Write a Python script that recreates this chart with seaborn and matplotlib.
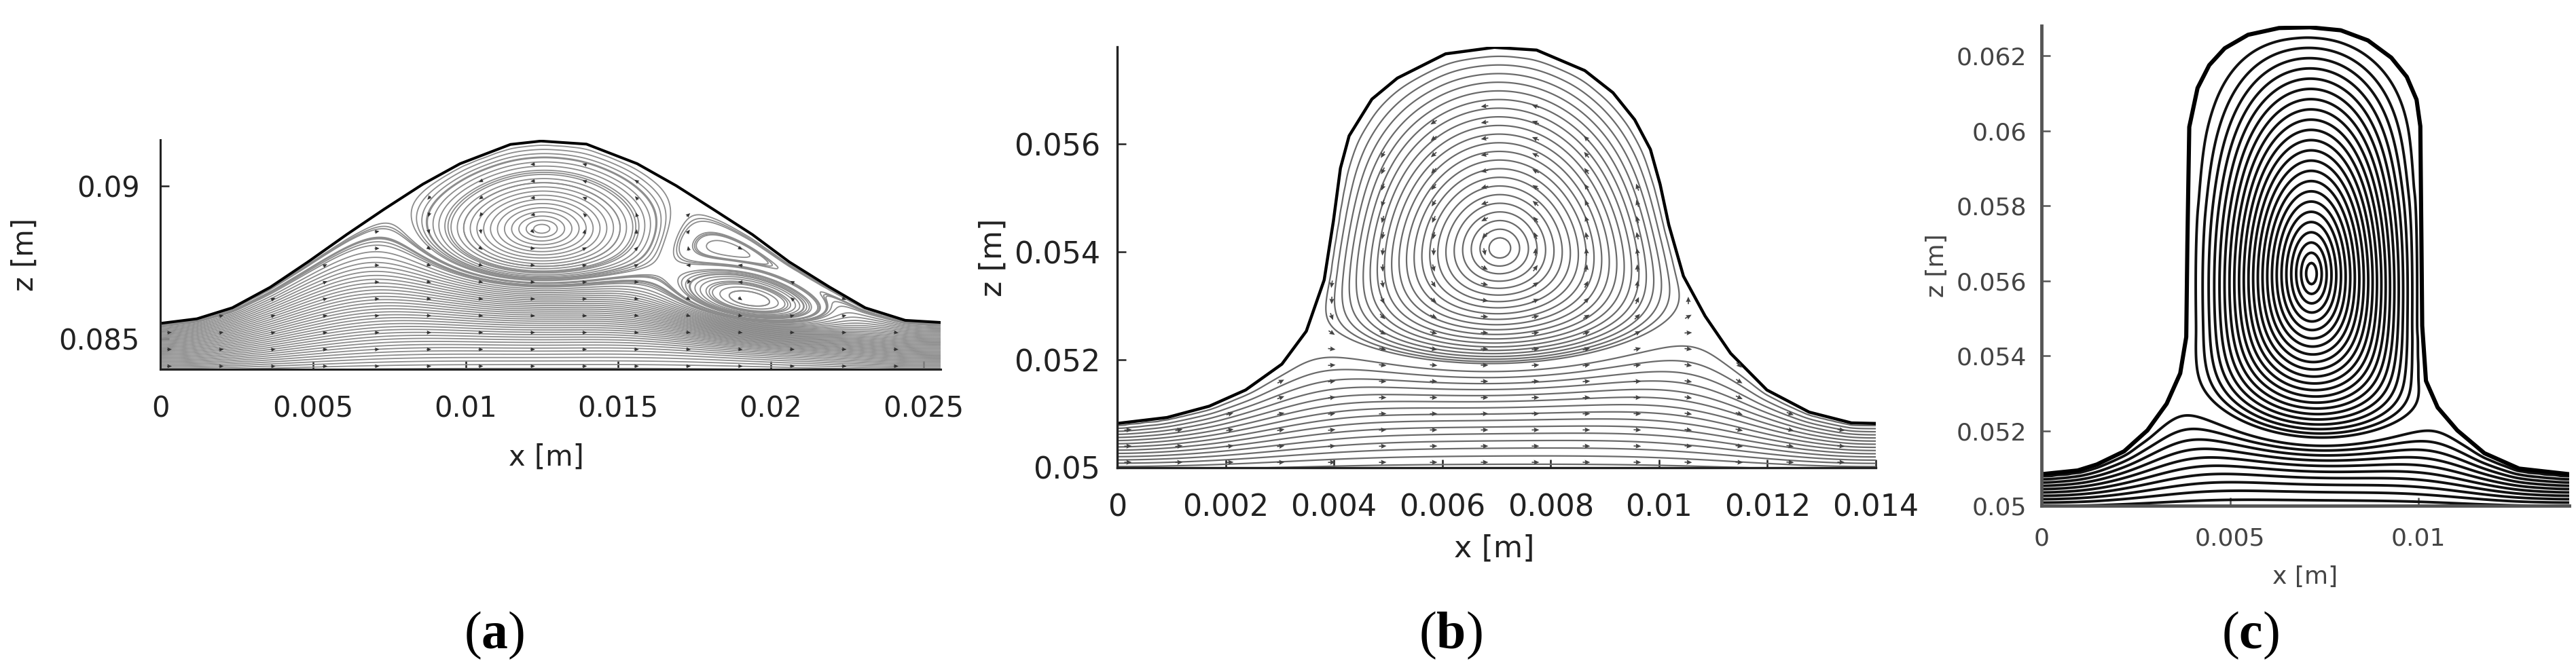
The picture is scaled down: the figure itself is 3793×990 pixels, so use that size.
import numpy as np
import matplotlib
matplotlib.use("Agg")
import matplotlib.pyplot as plt
import seaborn as sns

# free surface of each panel (x [m], z [m])
surf_a_x = [0.0, 0.0012, 0.00236, 0.0036, 0.00484, 0.0061, 0.00733, 0.0086, 0.00982, 0.01147, 0.01247,
            0.01396, 0.01562, 0.0169, 0.01811, 0.0194, 0.0206, 0.0219, 0.02309, 0.0244, 0.02556]
surf_a_z = [0.0855, 0.08565, 0.08601, 0.08668, 0.08751, 0.0884, 0.08923, 0.09005, 0.09072, 0.09135, 0.09146,
            0.09136, 0.09072, 0.0900, 0.08923, 0.0884, 0.08751, 0.0867, 0.08601, 0.0856, 0.08553]

surf_b_x = [0.0, 0.00092, 0.0017, 0.00237, 0.00304, 0.00349, 0.00382, 0.00399, 0.00412, 0.00428, 0.0047,
            0.00517, 0.00606, 0.00696, 0.00774, 0.00863, 0.00915, 0.00955, 0.00984, 0.01002, 0.01018,
            0.01045, 0.01085, 0.01132, 0.01199, 0.01277, 0.01355, 0.014]
surf_b_z = [0.05082, 0.05093, 0.05114, 0.05144, 0.05192, 0.05253, 0.05348, 0.05457, 0.05555, 0.05615, 0.05683,
            0.05722, 0.05767, 0.05779, 0.05774, 0.05736, 0.05695, 0.05645, 0.0559, 0.05525, 0.0545,
            0.05355, 0.05281, 0.05212, 0.05144, 0.05103, 0.05083, 0.05082]

surf_c_x = [0.0, 0.00096, 0.00147, 0.00219, 0.00281, 0.00332, 0.00368, 0.00384, 0.00387, 0.00392, 0.00414,
            0.00445, 0.00486, 0.00548, 0.0063, 0.00712, 0.00794, 0.00866, 0.00928, 0.00969, 0.00995, 0.01005,
            0.01008, 0.0101, 0.0102, 0.01051, 0.01103, 0.01175, 0.01267, 0.014]
surf_c_z = [0.05084, 0.05094, 0.0511, 0.05145, 0.05201, 0.05272, 0.05353, 0.0545, 0.0570, 0.0601, 0.06114,
            0.06175, 0.0622, 0.06256, 0.06274, 0.06276, 0.06268, 0.06241, 0.06195, 0.06144, 0.06083, 0.06012,
            0.0570, 0.0548, 0.05333, 0.05262, 0.05201, 0.0514, 0.05099, 0.05084]

# vortex eyes and the lowest point of their closed loops
eye_a = [(0.0125, 0.0886), (0.0193, 0.0863)]
eye_a_bottom = [0.0869, 0.0857]
eye_b = [(0.00705, 0.0541)]
eye_b_bottom = [0.05185]
eye_c = [(0.00717, 0.0562)]
eye_c_bottom = [0.05165]

# axes ticks
xticks_a = [0, 0.005, 0.01, 0.015, 0.02, 0.025]
xlabels_a = ["0", "0.005", "0.01", "0.015", "0.02", "0.025"]
zticks_a = [0.085, 0.09]
zlabels_a = ["0.085", "0.09"]
xticks_b = [0, 0.002, 0.004, 0.006, 0.008, 0.01, 0.012, 0.014]
xlabels_b = ["0", "0.002", "0.004", "0.006", "0.008", "0.01", "0.012", "0.014"]
zticks_b = [0.05, 0.052, 0.054, 0.056]
zlabels_b = ["0.05", "0.052", "0.054", "0.056"]
xticks_c = [0, 0.005, 0.01]
xlabels_c = ["0", "0.005", "0.01"]
zticks_c = [0.05, 0.052, 0.054, 0.056, 0.058, 0.06, 0.062]
zlabels_c = ["0.05", "0.052", "0.054", "0.056", "0.058", "0.06", "0.062"]

captions = ["a", "b", "c"]

sns.set_style("ticks")
plt.rcParams["font.family"] = ["DejaVu Sans"]
plt.rcParams["mathtext.fontset"] = "custom"
plt.rcParams["mathtext.rm"] = "Liberation Serif"
plt.rcParams["mathtext.bf"] = "Liberation Serif:bold"

W, H = 3793, 990
fig = plt.figure(figsize=(W / 100, H / 100), dpi=100)


def film_coord(sx, sz, zb, xlim, ztop, nx, nz, iters=1800):
    # harmonic coordinate: 0 on the wall, 1 on the free surface (red-black SOR)
    xg = np.linspace(xlim[0], xlim[1], nx)
    zg = np.linspace(zb, ztop, nz)
    X, Z = np.meshgrid(xg, zg)
    Hs = np.interp(X, sx, sz)
    fixed = Z >= Hs
    fixed[0, :] = True
    phi = np.clip((Z - zb) / (Hs - zb), 0, 1)
    phi[fixed] = 1.0
    phi[0, :] = 0.0
    cx = 1 / (xg[1] - xg[0]) ** 2
    cz = 1 / (zg[1] - zg[0]) ** 2
    den = 2 * (cx + cz)
    ii, jj = np.indices(phi.shape)
    red = (ii + jj) % 2 == 0
    sweeps = [~fixed & red, ~fixed & ~red]
    om = 2 / (1 + np.sin(np.pi / max(nx, nz)))
    for _ in range(iters):
        for m in sweeps:
            P = np.pad(phi, 1, mode="edge")
            nb = (cx * (P[1:-1, 2:] + P[1:-1, :-2]) + cz * (P[2:, 1:-1] + P[:-2, 1:-1])) / den
            phi = np.where(m, phi + om * (nb - phi), phi)
    return xg, zg, X, Z, Hs, phi


def stream(X, Z, phi, eyes, bottoms, shapes):
    # shapes: (half-width x, half-width z, how fast the core fades towards the walls)
    bumps = [(4 * phi * (1 - phi)) ** s[2] for s in shapes]
    cen = [list(e) for e in eyes]
    gam = [0.0] * len(eyes)
    xg, zg = X[0], Z[:, 0]

    def cores():
        return [np.exp(-0.5 * (((X - c[0]) / s[0]) ** 2 + ((Z - c[1]) / s[1]) ** 2)) * bb
                for c, s, bb in zip(cen, shapes, bumps)]

    for _ in range(6):
        gs = cores()
        for k in range(len(eyes)):
            j = np.argmin(np.abs(xg - eyes[k][0]))
            i = np.argmin(np.abs(zg - bottoms[k]))
            other = sum(gam[q] * gs[q][i, j] for q in range(len(eyes)) if q != k)
            gam[k] = (1 - phi[i, j] - other) / gs[k][i, j]
        psi = phi + sum(g * G for g, G in zip(gam, gs))
        for k in range(len(eyes)):
            win = (np.abs(X - eyes[k][0]) < shapes[k][0] * 0.4) & (np.abs(Z - eyes[k][1]) < shapes[k][1] * 0.4)
            i, j = np.unravel_index(np.argmax(np.where(win, psi, -np.inf)), psi.shape)
            cen[k][0] += eyes[k][0] - X[i, j]
            cen[k][1] += eyes[k][1] - Z[i, j]
    return phi + sum(g * G for g, G in zip(gam, cores()))


panels = [
    dict(box=(236, 206, 1385, 544), sx=surf_a_x, sz=surf_a_z, eyes=eye_a, bots=eye_a_bottom,
         shapes=[(0.0030, 0.0021, 1), (0.0023, 0.0010, 2)], zb=0.0839, grid=(340, 230),
         xlim=(0, 0.02556), zlim=(0.0840, 0.0915), xt=xticks_a, xl=xlabels_a, zt=zticks_a, zl=zlabels_a,
         fs=30, padx=27, pady=22, nf=38, nv=[20, 8], lc="#8c8c8c", lw=1.3, tc="#222222",
         arrows=(0.0003, 0.0017, 0.0841, 0.00055), alen=7, aw=1.3, ac="#333333",
         xlab=(0.495, -0.385), zlab=(-0.173, 0.5), cap=728, spc="#222222", splw=2.2),
    dict(box=(1645, 69, 2762, 689), sx=surf_b_x, sz=surf_b_z, eyes=eye_b, bots=eye_b_bottom,
         shapes=[(0.0023, 0.0026, 1)], zb=0.0499, grid=(300, 220),
         xlim=(0, 0.014), zlim=(0.05, 0.0578), xt=xticks_b, xl=xlabels_b, zt=zticks_b, zl=zlabels_b,
         fs=32, padx=27, pady=18, nf=15, nv=[22], lc="#6a6a6a", lw=1.6, tc="#222222",
         arrows=(0.0002, 0.00094, 0.0501, 0.0003), alen=11, aw=1.6, ac="#444444",
         xlab=(0.497, -0.192), zlab=(-0.164, 0.5), cap=2136, spc="#222222", splw=2.4),
    dict(box=(3006, 38, 3783, 745), sx=surf_c_x, sz=surf_c_z, eyes=eye_c, bots=eye_c_bottom,
         shapes=[(0.0018, 0.0033, 1)], zb=0.0499, grid=(300, 280),
         xlim=(0, 0.014), zlim=(0.05, 0.0628), xt=xticks_c, xl=xlabels_c, zt=zticks_c, zl=zlabels_c,
         fs=26, padx=23, pady=16, nf=10, nv=[23], lc="#111111", lw=2.8, tc="#444444",
         arrows=None, alen=0, aw=0, ac="#222222",
         xlab=(0.5, -0.1485), zlab=(-0.198, 0.5), cap=3313, spc="#555555", splw=3.5),
]

for p, cap in zip(panels, captions):
    l, t, r, b = p["box"]
    ax = fig.add_axes([l / W, 1 - b / H, (r - l) / W, (b - t) / H])
    xg, zg, X, Z, Hs, phi = film_coord(p["sx"], p["sz"], p["zb"], p["xlim"], p["zlim"][1], *p["grid"])
    psi = stream(X, Z, phi, p["eyes"], p["bots"], p["shapes"])
    inside = Z < Hs

    # film streamlines: evenly spaced across the inflow film
    levels = list(np.linspace(0, 1, p["nf"] + 2)[1:-1])
    # closed loops: evenly spaced on the vertical through each eye
    for (xe, ze), nv, zbot in zip(p["eyes"], p["nv"], p["bots"]):
        j = np.argmin(np.abs(xg - xe))
        col = psi[:, j]
        ok = inside[:, j]
        top = np.interp(xe, p["sx"], p["sz"])
        step = (top - ze) / (nv + 1)
        up = np.interp(ze + step * np.arange(1, nv + 1), zg[ok], col[ok])
        levels += list(up)
        # fill the gap between the outer loop and the separatrix below the eye
        low = (zg <= ze) & ok
        zl_, cl_ = zg[low], col[low]
        z_lo = np.interp(up.min(), cl_, zl_)
        zs = np.arange(z_lo - step, zbot, -step)
        if len(zs):
            levels += list(np.interp(zs, zl_, cl_))
    levels = np.unique(np.round(levels, 6))
    ax.contour(X, Z, np.ma.masked_where(~inside, psi), levels=levels, colors=p["lc"], linewidths=p["lw"])

    # free surface
    sns.lineplot(x=p["sx"], y=p["sz"], ax=ax, color="black", lw=p["lw"] + 1.6,
                 sort=False, estimator=None)

    ax.set_xlim(*p["xlim"])
    ax.set_ylim(*p["zlim"])

    if p["arrows"] is not None:
        x0, dx, z0, dz = p["arrows"]
        dpz, dpx = np.gradient(psi, zg, xg)
        sxs = (r - l) / (p["xlim"][1] - p["xlim"][0])
        szs = (b - t) / (p["zlim"][1] - p["zlim"][0])
        pts_x, pts_z, au, aw = [], [], [], []
        for xa in np.arange(x0, p["xlim"][1], dx):
            for za in np.arange(z0, p["zlim"][1], dz):
                i = np.argmin(np.abs(zg - za))
                j = np.argmin(np.abs(xg - xa))
                if not (inside[i, j] and phi[i, j] < 0.97):
                    continue
                u = dpz[i, j] * sxs
                w = -dpx[i, j] * szs
                m = np.hypot(u, w)
                if m == 0:
                    continue
                pts_x.append(xa)
                pts_z.append(za)
                au.append(u / m * p["alen"])
                aw.append(w / m * p["alen"])
        ax.quiver(pts_x, pts_z, au, aw, angles="uv", units="dots", scale_units="dots", scale=1,
                  width=p["aw"], headwidth=4.5, headlength=5, headaxislength=4.5, pivot="middle",
                  color=p["ac"], zorder=3)

    sns.despine(ax=ax)
    for s in ["left", "bottom"]:
        ax.spines[s].set_color(p["spc"])
        ax.spines[s].set_linewidth(p["splw"])
    ax.set_xticks(p["xt"])
    ax.set_xticklabels(p["xl"])
    ax.set_yticks(p["zt"])
    ax.set_yticklabels(p["zl"])
    ax.tick_params(direction="in", length=9, width=1.8, labelsize=p["fs"], colors=p["spc"],
                   labelcolor=p["tc"])
    ax.tick_params(axis="x", pad=p["padx"])
    ax.tick_params(axis="y", pad=p["pady"])
    ax.set_xlabel("x [m]", fontsize=p["fs"], color=p["tc"], va="center", ha="center")
    ax.set_ylabel("z [m]", fontsize=p["fs"], color=p["tc"], va="center", ha="center")
    ax.xaxis.set_label_coords(*p["xlab"])
    ax.yaxis.set_label_coords(*p["zlab"])

    fig.text(p["cap"] / W, 1 - 936 / H, r"$\mathrm{(}\mathbf{" + cap + r"}\mathrm{)}$",
             fontsize=56, ha="center", va="center", color="black")

fig.savefig("out.png", dpi=100, facecolor="white")
